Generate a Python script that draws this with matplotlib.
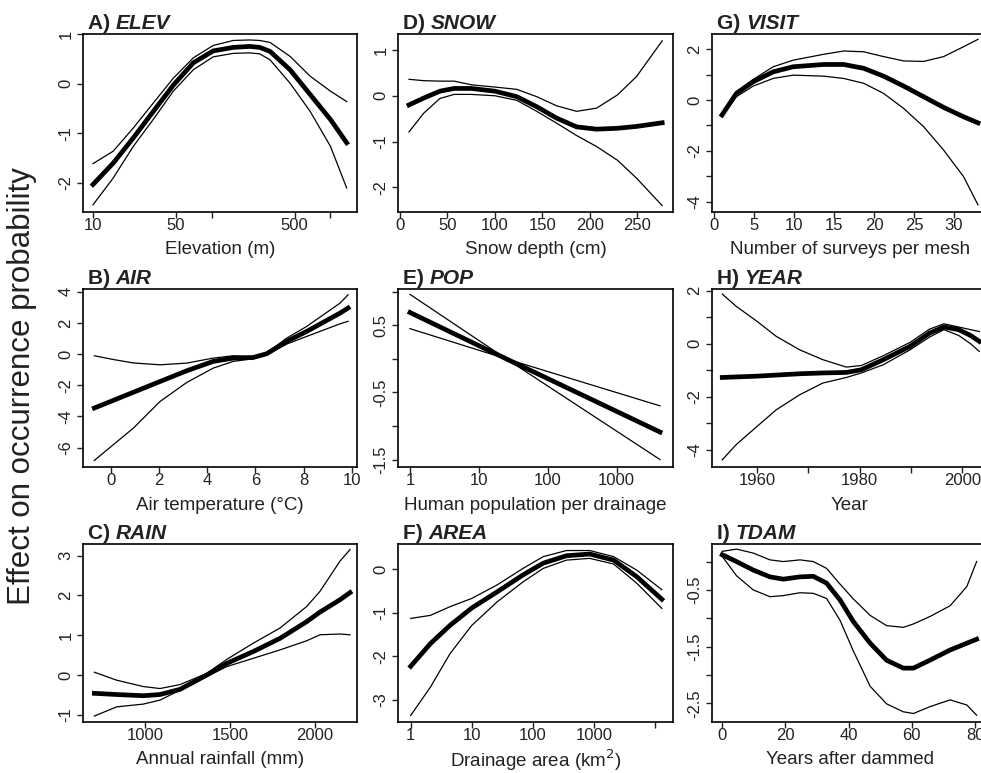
import matplotlib
matplotlib.use('Agg')
import matplotlib.pyplot as plt
import matplotlib.transforms as mtransforms
from matplotlib.ticker import NullLocator

plt.rcParams['font.family'] = ['Liberation Sans', 'DejaVu Sans']

# A) ELEV - elevation (m)
elev_x = [10, 14.8, 21.9, 32.2, 47.5, 70, 103, 152, 209, 254, 310, 457, 676, 1000, 1371]
elev_mean = [-2.03, -1.6, -1.09, -0.56, -0.03, 0.42, 0.66, 0.73, 0.75, 0.73, 0.65, 0.28, -0.22, -0.72, -1.19]
elev_upper = [-1.61, -1.36, -0.89, -0.39, 0.11, 0.52, 0.77, 0.87, 0.88, 0.87, 0.83, 0.55, 0.15, -0.15, -0.36]
elev_lower = [-2.44, -1.9, -1.26, -0.72, -0.15, 0.28, 0.54, 0.61, 0.62, 0.6, 0.48, 0.01, -0.56, -1.26, -2.1]

# B) AIR - air temperature (C)
air_x = [-0.69, 0.1, 0.93, 2.04, 3.15, 4.25, 5.08, 5.91, 6.47, 7.3, 8.13, 9.52, 9.85]
air_mean = [-3.46, -2.97, -2.45, -1.76, -1.07, -0.47, -0.26, -0.22, 0.02, 0.81, 1.45, 2.63, 2.95]
air_upper = [-0.11, -0.35, -0.57, -0.69, -0.58, -0.26, -0.11, -0.17, 0.06, 1.02, 1.77, 3.27, 3.8]
air_lower = [-6.82, -5.81, -4.75, -3.04, -1.82, -0.9, -0.47, -0.3, -0.05, 0.64, 1.13, 1.94, 2.1]

# C) RAIN - annual rainfall (mm)
rain_x = [702, 833, 990, 1088, 1206, 1363, 1480, 1637, 1794, 1951, 2029, 2147, 2206]
rain_mean = [-0.46, -0.49, -0.52, -0.49, -0.36, 0.0, 0.29, 0.59, 0.92, 1.34, 1.58, 1.89, 2.07]
rain_upper = [0.07, -0.13, -0.29, -0.34, -0.24, 0.04, 0.39, 0.8, 1.18, 1.72, 2.1, 2.86, 3.15]
rain_lower = [-1.03, -0.8, -0.73, -0.63, -0.38, -0.04, 0.21, 0.42, 0.63, 0.86, 1.01, 1.03, 1.01]

# D) SNOW - snow depth (cm)
snow_x = [9.5, 25, 42, 57, 75, 100, 123, 144, 165, 186, 207, 229, 249, 276]
snow_mean = [-0.2, -0.05, 0.1, 0.16, 0.16, 0.1, -0.02, -0.24, -0.49, -0.68, -0.73, -0.71, -0.67, -0.59]
snow_upper = [0.36, 0.33, 0.32, 0.32, 0.24, 0.19, 0.14, -0.02, -0.22, -0.34, -0.27, 0.02, 0.42, 1.2]
snow_lower = [-0.79, -0.38, -0.06, 0.03, 0.03, 0.0, -0.1, -0.34, -0.6, -0.87, -1.11, -1.41, -1.8, -2.4]

# E) POP - human population per drainage
pop_x = [1, 25, 4260]
pop_mean = [0.69, 0.0, -1.09]
pop_upper = [0.96, 0.0, -1.5]
pop_lower = [0.45, 0.0, -0.7]

# F) AREA - drainage area (km2)
area_x = [1, 2.1, 4.4, 10, 26, 69, 148, 355, 850, 2090, 5000, 12900]
area_mean = [-2.23, -1.71, -1.29, -0.89, -0.52, -0.13, 0.14, 0.31, 0.35, 0.21, -0.17, -0.69]
area_upper = [-1.13, -1.06, -0.86, -0.67, -0.36, 0.02, 0.29, 0.43, 0.43, 0.29, -0.02, -0.47]
area_lower = [-3.36, -2.71, -1.94, -1.29, -0.75, -0.29, 0.02, 0.21, 0.25, 0.12, -0.32, -0.9]

# G) VISIT - number of surveys per mesh
visit_x = [1, 2.8, 4.9, 7.4, 9.9, 13.7, 16.2, 18.7, 21.2, 23.7, 26.2, 28.7, 31.2, 33]
visit_mean = [-0.59, 0.26, 0.72, 1.11, 1.31, 1.4, 1.4, 1.25, 0.94, 0.55, 0.13, -0.29, -0.66, -0.9]
visit_upper = [-0.55, 0.33, 0.81, 1.31, 1.57, 1.8, 1.93, 1.9, 1.71, 1.54, 1.52, 1.71, 2.1, 2.39]
visit_lower = [-0.65, 0.13, 0.55, 0.85, 0.98, 0.94, 0.85, 0.66, 0.26, -0.33, -1.05, -1.97, -3.02, -4.13]

# H) YEAR
year_x = [1953.2, 1955.9, 1960, 1963.7, 1968.3, 1972.8, 1977.4, 1980.3, 1984.6, 1989.8, 1993.6, 1996.4, 1999.3, 2001.6, 2003.3]
year_mean = [-1.27, -1.25, -1.22, -1.18, -1.13, -1.1, -1.08, -0.98, -0.6, -0.1, 0.4, 0.63, 0.53, 0.31, 0.09]
year_upper = [1.87, 1.41, 0.84, 0.28, -0.23, -0.6, -0.88, -0.82, -0.45, 0.05, 0.55, 0.75, 0.63, 0.53, 0.46]
year_lower = [-4.37, -3.8, -3.11, -2.49, -1.92, -1.48, -1.27, -1.1, -0.79, -0.23, 0.25, 0.53, 0.31, 0.0, -0.29]

# I) TDAM - years after dammed
tdam_x = [0, 4.5, 9.8, 15.1, 19.3, 24.6, 28.8, 33, 37.3, 41.5, 46.8, 52, 57.3, 60.5, 65.7, 72.1, 77.4, 80.5]
tdam_mean = [0.12, 0.0, -0.15, -0.27, -0.31, -0.27, -0.26, -0.38, -0.68, -1.06, -1.44, -1.74, -1.88, -1.88, -1.74, -1.56, -1.44, -1.37]
tdam_upper = [0.18, 0.22, 0.15, 0.03, 0.0, 0.03, 0.0, -0.12, -0.4, -0.66, -0.95, -1.13, -1.16, -1.1, -0.97, -0.78, -0.44, 0.0]
tdam_lower = [0.09, -0.25, -0.5, -0.62, -0.6, -0.55, -0.56, -0.65, -1.04, -1.58, -2.2, -2.51, -2.65, -2.68, -2.56, -2.44, -2.53, -2.71]

# panel setup: letter, name, col, row, data, xlabel, xlim, ylim, xticks, xticklabels, yticks, yticklabels, log x
panels = [
    ('A)', 'ELEV', 0, 0, (elev_x, elev_mean, elev_upper, elev_lower), 'Elevation (m)',
     (8.24, 1675), (-2.584, 1.0), [10, 50, 100, 500, 1000], ['10', '50', '', '500', ''],
     [-2, -1, 0, 1], ['-2', '-1', '0', '1'], True),
    ('B)', 'AIR', 0, 1, (air_x, air_mean, air_upper, air_lower), 'Air temperature (\u00b0C)',
     (-1.16, 10.22), (-7.24, 4.17), [0, 2, 4, 6, 8, 10], ['0', '2', '4', '6', '8', '10'],
     [-6, -4, -2, 0, 2, 4], ['-6', '-4', '-2', '0', '2', '4'], False),
    ('C)', 'RAIN', 0, 2, (rain_x, rain_mean, rain_upper, rain_lower), 'Annual rainfall (mm)',
     (635, 2247), (-1.18, 3.29), [1000, 1500, 2000], ['1000', '1500', '2000'],
     [-1, 0, 1, 2, 3], ['-1', '0', '1', '2', '3'], False),
    ('D)', 'SNOW', 1, 0, (snow_x, snow_mean, snow_upper, snow_lower), 'Snow depth (cm)',
     (-2.1, 287.4), (-2.54, 1.35), [0, 50, 100, 150, 200, 250], ['0', '50', '100', '150', '200', '250'],
     [-2, -1, 0, 1], ['-2', '-1', '0', '1'], False),
    ('E)', 'POP', 1, 1, (pop_x, pop_mean, pop_upper, pop_lower), 'Human population per drainage',
     (0.67, 6560), (-1.61, 1.04), [1, 10, 100, 1000], ['1', '10', '100', '1000'],
     [-1.5, -1.0, -0.5, 0, 0.5, 1.0], ['-1.5', '', '-0.5', '', '0.5', ''], True),
    ('F)', 'AREA', 1, 2, (area_x, area_mean, area_upper, area_lower), 'Drainage area (km$^2$)',
     (0.62, 19630), (-3.51, 0.58), [1, 10, 100, 1000, 10000], ['1', '10', '100', '1000', ''],
     [-3, -2, -1, 0], ['-3', '-2', '-1', '0'], True),
    ('G)', 'VISIT', 2, 0, (visit_x, visit_mean, visit_upper, visit_lower), 'Number of surveys per mesh',
     (-0.25, 34.25), (-4.41, 2.6), [0, 5, 10, 15, 20, 25, 30], ['0', '5', '10', '15', '20', '25', '30'],
     [-4, -3, -2, -1, 0, 1, 2], ['-4', '', '-2', '', '0', '', '2'], False),
    ('H)', 'YEAR', 2, 1, (year_x, year_mean, year_upper, year_lower), 'Year',
     (1951.2, 2005.0), (-4.64, 2.06), [1960, 1970, 1980, 1990, 2000], ['1960', '', '1980', '', '2000'],
     [-4, -3, -2, -1, 0, 1, 2], ['-4', '', '-2', '', '0', '', '2'], False),
    ('I)', 'TDAM', 2, 2, (tdam_x, tdam_mean, tdam_upper, tdam_lower), 'Years after dammed',
     (-3.26, 84.1), (-2.83, 0.31), [0, 20, 40, 60, 80], ['0', '20', '40', '60', '80'],
     [-2.5, -2.0, -1.5, -1.0, -0.5, 0], ['-2.5', '', '-1.5', '', '-0.5', ''], False),
]

W, H = 981, 773
col_left = [83, 398, 712]
col_width = [274, 275, 276]
row_top = [34, 289, 544]
row_height = 178

fig = plt.figure(figsize=(9.81, 7.73), dpi=100)
renderer = fig.canvas.get_renderer()

for letter, name, col, row, data, xlabel, xlim, ylim, xt, xtl, yt, ytl, logx in panels:
    left = col_left[col]
    top = row_top[row]
    ax = fig.add_axes([left / W, (H - top - row_height) / H, col_width[col] / W, row_height / H])
    x, mean, upper, lower = data
    ax.plot(x, upper, color='black', lw=0.9)
    ax.plot(x, lower, color='black', lw=0.9)
    ax.plot(x, mean, color='black', lw=3.4)
    if logx:
        ax.set_xscale('log')
    ax.set_xlim(xlim)
    ax.set_ylim(ylim)
    ax.set_xticks(xt)
    ax.set_xticklabels(xtl)
    ax.set_yticks(yt)
    ax.set_yticklabels(ytl, rotation=90, va='center')
    ax.xaxis.set_minor_locator(NullLocator())
    ax.yaxis.set_minor_locator(NullLocator())
    ax.tick_params(direction='out', length=4.5, width=1, labelsize=12, colors='#222222')
    ax.tick_params(axis='x', pad=0)
    ax.tick_params(axis='y', pad=2.5)
    for s in ax.spines.values():
        s.set_linewidth(1.2)
    ax.set_xlabel(xlabel, fontsize=13.5, va='center', color='#222222')
    ax.xaxis.set_label_coords(0.5, -38 / row_height)

    # panel title: bold letter then bold italic name
    t1 = ax.text(5 / col_width[col], 1 + 5 / row_height, letter + ' ', transform=ax.transAxes,
                 fontsize=15, fontweight='bold', ha='left', va='baseline', color='#222222')
    w = t1.get_window_extent(renderer).width
    off = mtransforms.ScaledTranslation(w / fig.dpi, 0, fig.dpi_scale_trans)
    ax.text(5 / col_width[col], 1 + 5 / row_height, name, transform=ax.transAxes + off,
            fontsize=15, fontweight='bold', fontstyle='italic', ha='left', va='baseline', color='#222222')

fig.text(22 / W, 1 - 386 / H, 'Effect on occurrence probability', rotation=90,
         ha='center', va='center', fontsize=22.5, color='#222222')

plt.savefig('out.png', dpi=100)
